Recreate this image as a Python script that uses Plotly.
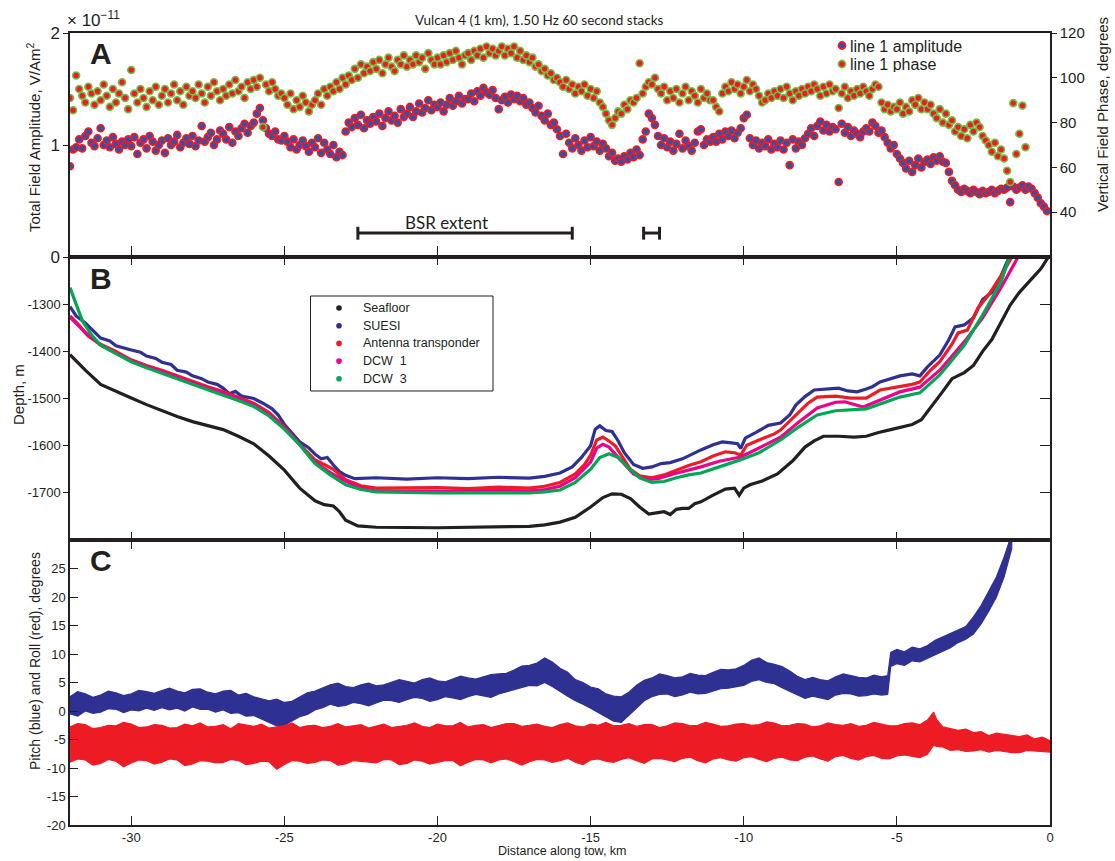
import plotly.graph_objects as go

# ---------------- DATA ----------------
# Panel A: 60 s stacks every 0.1 km starting at -32.0 km
AMP_X0, AMP_DX = -32.0, 0.1
amplitude = [  # x 1e-11 V/Am^2
    0.81, 0.96, 0.98, 1.05, 0.97, 1.08, 1.12, 1.02, 0.99, 1.06,
    1.15, 1.00, 1.04, 0.98, 1.07, 1.01, 0.96, 1.03, 1.00, 1.05,
    0.99, 1.07, 0.92, 1.02, 1.05, 0.97, 1.08, 1.03, 0.95, 1.00,
    1.04, 0.93, 1.06, 1.00, 1.03, 1.09, 0.98, 1.02, 1.06, 1.01,
    1.08, 0.99, 1.04, 1.17, 1.03, 1.07, 1.11, 1.00, 1.05, 1.13,
    1.10, 1.05, 1.16, 1.02, 1.12, 1.08, 1.15, 1.19, 1.11, 1.17,
    1.20, 1.28, 1.33, 1.22, 1.15, 1.10, 1.08, 1.12, 1.05, 1.04,
    1.08, 1.03, 0.98, 1.05, 0.96, 1.00, 1.04, 0.99, 0.94, 1.02,
    0.98, 1.06, 0.93, 1.02, 0.96, 0.92, 1.00, 0.89, 0.94, 0.91,
    1.12, 1.20, 1.16, 1.24, 1.18, 1.27, 1.15, 1.22, 1.19, 1.25,
    1.21, 1.28, 1.17, 1.24, 1.30, 1.22, 1.26, 1.20, 1.32, 1.25,
    1.28, 1.34, 1.25, 1.30, 1.37, 1.29, 1.33, 1.40, 1.31, 1.36,
    1.34, 1.38, 1.30, 1.36, 1.42, 1.35, 1.39, 1.44, 1.37, 1.41,
    1.41, 1.46, 1.39, 1.48, 1.44, 1.51, 1.47, 1.45, 1.49, 1.42,
    1.32, 1.40, 1.43, 1.38, 1.45, 1.41, 1.44, 1.39, 1.42, 1.36,
    1.38, 1.33, 1.29, 1.35, 1.26, 1.22, 1.28, 1.18, 1.20, 1.14,
    1.08, 0.92, 1.10, 1.02, 0.97, 1.06, 1.00, 0.95, 1.04, 0.98,
    1.07, 0.99, 1.03, 0.95, 1.01, 0.97, 0.90, 0.93, 0.86, 0.88,
    0.85, 0.90, 0.87, 0.93, 0.89, 0.96, 0.91, 1.05, 1.12, 1.28,
    1.24, 1.18, 1.08, 1.00, 1.06, 0.98, 1.03, 0.95, 1.01, 1.10,
    0.97, 1.04, 0.99, 0.95, 1.02, 1.12, 1.14, 1.00, 1.05, 1.03,
    1.07, 1.03, 1.10, 1.05, 1.12, 1.08, 1.13, 1.06, 1.11, 1.15,
    1.24, 1.27, 1.06, 1.00, 1.04, 0.97, 1.02, 0.99, 1.05, 0.96,
    1.01, 0.98, 1.04, 0.96, 1.02, 0.82, 1.05, 0.97, 1.03, 1.00,
    1.06, 1.10, 1.15, 1.08, 1.17, 1.21, 1.13, 1.18, 1.12, 1.16,
    1.14, 0.67, 1.19, 1.11, 1.16, 1.08, 1.13, 1.10, 1.07, 1.12,
    1.15, 1.12, 1.20, 1.17, 1.11, 1.13, 1.07, 1.02, 0.97, 1.00,
    0.92, 0.88, 0.84, 0.79, 0.86, 0.76, 0.82, 0.88, 0.80, 0.85,
    0.87, 0.83, 0.89, 0.86, 0.90, 0.85, 0.84, 0.76, 0.68, 0.64,
    0.60, 0.58, 0.61, 0.59, 0.57, 0.60, 0.58, 0.56, 0.59, 0.57,
    0.58, 0.60, 0.57, 0.59, 0.61, 0.60, 0.62, 0.49, 0.63, 0.60,
    0.62, 0.64, 0.60, 0.63, 0.61, 0.57, 0.53, 0.48, 0.45, 0.41,
]
phase = [  # degrees
    91, 85.5, 101, 95, 92, 89, 96, 93, 88, 94,
    90, 97, 92, 87, 95, 89, 93, 98, 91, 86,
    103.5, 93, 89, 95, 91, 87, 94, 90, 96, 88,
    92, 95, 89, 93, 97, 90, 94, 88, 96, 92,
    94, 91, 97, 93, 89, 96, 92, 98, 94, 90,
    95, 92, 97, 93, 99, 94, 96, 91, 98, 95,
    99, 96, 100, 78, 97, 94, 98, 95, 92, 93,
    91, 88, 93, 86, 90, 87, 92, 89, 85, 88,
    90, 93, 88, 95, 92, 96, 94, 98, 95, 100,
    97, 101, 99, 104, 100, 106, 102, 105, 103, 107,
    104, 108, 102, 106, 109, 105, 103, 108, 106, 110,
    105, 108, 106, 110, 107, 109, 104, 111, 108, 106,
    109, 106, 110, 107, 111, 108, 112, 109, 106, 110,
    111, 108, 112, 110, 113, 109, 114, 111, 113, 110,
    112, 114, 110, 113, 111, 114, 109, 112, 108, 110,
    107, 109, 105, 106, 103, 104, 101, 102, 99, 100,
    98, 96, 99, 95, 97, 93, 96, 94, 97, 92,
    95, 91, 94, 89, 87, 84, 81, 79, 82, 85,
    84, 88, 86, 90, 89, 91, 106.5, 93, 96, 98,
    97, 100, 95, 93, 96, 90, 94, 91, 95, 89,
    93, 96, 90, 94, 92, 89, 95, 91, 93, 90,
    90, 87, 85, 93, 96, 94, 98, 95, 97, 93,
    96, 99, 94, 97, 95, 92, 89, 90, 93, 91,
    94, 92, 95, 91, 96, 93, 90, 94, 92, 95,
    93, 96, 94, 97, 95, 92, 96, 93, 97, 94,
    95, 86.5, 93, 96, 91, 94, 92, 95, 93, 96,
    94, 92, 95, 97, 96, 89, 86, 88, 85, 87,
    86, 89, 84, 87, 85, 90, 88, 91, 86, 89,
    86, 88, 84, 82, 86, 80, 84, 79, 81, 76,
    78, 74, 77, 73, 79, 76, 80, 78, 74, 72,
    70, 67, 71, 65, 68, 64, 58.5, 53.5, 88.7, 66,
    75, 87.6, 69,
]
amp_x = [round(AMP_X0 + AMP_DX * i, 2) for i in range(len(amplitude))]
phase_x = amp_x[:len(phase)]
legend_a = ["line 1 amplitude", "line 1 phase"]

# BSR extent and small bracket (km)
bsr_extent = (-22.6, -15.6)
small_extent = (-13.27, -12.75)
bsr_label = "BSR extent"

# Panel B: depths (m)
seafloor_x = [-32.0, -31.5, -31.0, -30.5, -30.0, -29.5, -29.0, -28.5, -28.0, -27.5, -27.0, -26.5, -26.0,
              -25.5, -25.0, -24.5, -24.0, -23.7, -23.4, -23.2, -23.0, -22.6, -22.0, -20.0, -18.0, -17.0,
              -16.5, -16.0, -15.5, -15.0, -14.6, -14.3, -14.0, -13.7, -13.4, -13.1, -12.8, -12.6, -12.4,
              -12.2, -12.0, -11.8, -11.6, -11.4, -11.0, -10.6, -10.3, -10.15, -10.0, -9.8, -9.4, -8.9,
              -8.4, -8.0, -7.7, -7.4, -6.9, -6.4, -6.0, -5.6, -5.2, -4.9, -4.5, -4.2, -3.9, -3.5, -3.2,
              -2.8, -2.5, -2.2, -1.9, -1.6, -1.3, -1.0, -0.6, -0.3, -0.05]
seafloor_y = [-1407, -1440, -1470, -1485, -1499, -1513, -1526, -1538, -1549, -1557, -1566, -1580, -1596,
              -1622, -1652, -1690, -1717, -1725, -1728, -1740, -1758, -1770, -1773, -1774, -1773, -1771,
              -1768, -1762, -1752, -1730, -1710, -1702, -1703, -1712, -1730, -1745, -1742, -1740, -1746,
              -1735, -1733, -1733, -1723, -1719, -1705, -1692, -1690, -1705, -1690, -1683, -1675, -1660,
              -1632, -1603, -1590, -1580, -1580, -1582, -1580, -1572, -1566, -1562, -1555, -1545, -1520,
              -1485, -1458, -1445, -1430, -1400, -1375, -1340, -1302, -1275, -1245, -1225, -1200]

suesi_x = [-32.0, -31.8, -31.5, -31.2, -31.0, -30.7, -30.5, -30.0, -29.7, -29.5, -29.2, -29.0, -28.7,
           -28.5, -28.2, -28.0, -27.7, -27.5, -27.2, -27.0, -26.8, -26.6, -26.4, -26.0, -25.7, -25.4,
           -25.2, -25.0, -24.7, -24.5, -24.2, -24.0, -23.8, -23.6, -23.4, -23.2, -23.0, -22.7, -22.0,
           -21.0, -20.0, -19.0, -18.0, -17.0, -16.5, -16.0, -15.6, -15.3, -15.0, -14.85, -14.7, -14.5,
           -14.3, -14.1, -13.9, -13.6, -13.3, -13.0, -12.7, -12.4, -12.0, -11.7, -11.4, -11.0, -10.7,
           -10.4, -10.2, -10.1, -9.95, -9.6, -9.2, -8.8, -8.5, -8.3, -8.0, -7.7, -7.2, -6.9, -6.6,
           -6.3, -6.0, -5.8, -5.55, -5.2, -4.9, -4.5, -4.25, -4.0, -3.6, -3.3, -3.1, -2.8, -2.5, -2.2,
           -1.9, -1.6, -1.3]
suesi_y = [-1305, -1325, -1340, -1360, -1372, -1378, -1388, -1397, -1402, -1410, -1415, -1423, -1428,
           -1440, -1444, -1452, -1458, -1465, -1470, -1478, -1490, -1485, -1495, -1500, -1510, -1522,
           -1535, -1555, -1578, -1592, -1605, -1618, -1628, -1625, -1641, -1655, -1663, -1670, -1668,
           -1671, -1668, -1670, -1667, -1669, -1665, -1658, -1645, -1625, -1600, -1565, -1558, -1568,
           -1570, -1590, -1615, -1640, -1648, -1645, -1638, -1636, -1628, -1618, -1609, -1598, -1592,
           -1594, -1596, -1606, -1584, -1572, -1557, -1552, -1535, -1514, -1496, -1482, -1480, -1478,
           -1484, -1486, -1480, -1475, -1465, -1458, -1452, -1448, -1452, -1433, -1408, -1375, -1348,
           -1344, -1329, -1290, -1275, -1240, -1195]

antenna_x = [-32.0, -31.7, -31.4, -31.0, -30.5, -30.0, -29.5, -29.0, -28.5, -28.0, -27.5, -27.0, -26.5,
             -26.0, -25.5, -25.0, -24.5, -24.0, -23.7, -23.4, -23.0, -22.5, -22.0, -21.0, -20.0, -19.0,
             -18.0, -17.0, -16.5, -16.0, -15.5, -15.2, -15.0, -14.8, -14.6, -14.4, -14.2, -14.0, -13.7,
             -13.4, -13.0, -12.6, -12.2, -11.8, -11.4, -11.0, -10.6, -10.3, -10.1, -9.9, -9.5, -9.0,
             -8.8, -8.3, -7.9, -7.6, -7.0, -6.5, -6.0, -5.55, -5.0, -4.5, -4.25, -3.9, -3.6, -3.2,
             -3.0, -2.7, -2.35, -2.0, -1.6, -1.2]
antenna_y = [-1325, -1345, -1368, -1385, -1400, -1418, -1430, -1440, -1452, -1464, -1475, -1485, -1497,
             -1510, -1530, -1560, -1597, -1630, -1640, -1650, -1672, -1685, -1690, -1690, -1689, -1691,
             -1688, -1690, -1686, -1678, -1660, -1640, -1620, -1588, -1582, -1590, -1600, -1620, -1650,
             -1664, -1668, -1662, -1652, -1642, -1634, -1622, -1613, -1615, -1620, -1599, -1588, -1575,
             -1567, -1535, -1510, -1497, -1495, -1499, -1499, -1482, -1475, -1470, -1465, -1440, -1422,
             -1385, -1361, -1355, -1308, -1280, -1240, -1195]

dcw1_x = [-32.0, -31.5, -31.0, -30.5, -30.0, -29.5, -29.0, -28.5, -28.0, -27.5, -27.0, -26.5, -26.0,
          -25.5, -25.0, -24.5, -24.0, -23.5, -23.0, -22.5, -22.0, -20.0, -18.0, -17.0, -16.5, -16.0,
          -15.5, -15.0, -14.8, -14.6, -14.4, -14.0, -13.6, -13.2, -12.8, -12.3, -11.8, -11.4, -10.8,
          -10.4, -10.1, -9.5, -8.8, -8.2, -7.6, -7.0, -6.7, -6.1, -5.6, -4.9, -4.25, -3.6, -2.8, -2.2,
          -1.6, -1.0]
dcw1_y = [-1328, -1360, -1387, -1403, -1420, -1432, -1442, -1455, -1467, -1478, -1488, -1500, -1513,
          -1533, -1563, -1598, -1635, -1657, -1675, -1690, -1696, -1697, -1695, -1696, -1693, -1686,
          -1668, -1635, -1605, -1597, -1603, -1632, -1660, -1672, -1670, -1660, -1652, -1645, -1633,
          -1627, -1624, -1605, -1582, -1550, -1520, -1508, -1507, -1518, -1505, -1486, -1476, -1440,
          -1380, -1329, -1265, -1195]

dcw3_x = [-32.0, -31.8, -31.6, -31.3, -31.0, -30.5, -30.0, -29.5, -29.0, -28.5, -28.0, -27.5, -27.0,
          -26.5, -26.0, -25.5, -25.0, -24.5, -24.0, -23.5, -23.0, -22.5, -22.0, -20.0, -18.0, -17.0,
          -16.5, -16.0, -15.5, -15.0, -14.7, -14.4, -14.1, -13.8, -13.4, -13.0, -12.6, -12.2, -11.8,
          -11.4, -10.8, -10.1, -9.5, -8.8, -8.2, -7.6, -7.0, -6.5, -6.0, -4.9, -4.25, -3.6, -2.8,
          -2.2, -1.6, -1.3]
dcw3_y = [-1265, -1300, -1335, -1365, -1387, -1405, -1422, -1435, -1446, -1458, -1470, -1482, -1493,
          -1504, -1517, -1537, -1565, -1598, -1638, -1662, -1683, -1693, -1698, -1700, -1700, -1700,
          -1698, -1694, -1678, -1650, -1625, -1617, -1625, -1645, -1668, -1678, -1676, -1668, -1662,
          -1658, -1645, -1630, -1615, -1588, -1560, -1535, -1526, -1524, -1522, -1497, -1488, -1450,
          -1387, -1323, -1253, -1195]

# Panel C: envelopes of pitch (blue) and roll (red), degrees; 0.25 km samples
pitch_x = [round(-32.0 + 0.25 * i, 2) for i in range(107)] + [
    -5.3, -5.2, -5.0, -4.75, -4.5, -4.25, -4.0, -3.75, -3.5, -3.25, -3.0, -2.75, -2.5, -2.25,
    -2.0, -1.75, -1.5, -1.25]
pitch_hi = [2.5, 3.4, 3.0, 2.4, 2.8, 3.5, 3.2, 2.7, 3.0, 3.6, 3.4, 3.1, 3.6, 4.0, 3.5, 3.2,
            3.8, 3.9, 3.3, 3.0, 3.5, 3.6, 2.8, 3.1, 2.5, 2.2, 1.8, 2.1, 1.5, 1.7, 2.5, 3.2,
            3.5, 4.0, 4.6, 4.9, 4.3, 4.1, 4.6, 4.9, 4.4, 4.6, 5.0, 5.5, 5.2, 4.9, 5.5, 5.8,
            5.3, 5.1, 5.6, 6.1, 5.8, 5.6, 6.0, 6.4, 6.5, 6.6, 7.2, 7.9, 8.0, 8.4, 9.3, 8.6,
            7.5, 6.8, 5.5, 5.0, 4.2, 3.9, 3.0, 2.6, 2.5, 3.3, 4.5, 5.4, 5.8, 6.5, 6.2, 5.8,
            6.0, 6.6, 6.3, 6.2, 6.8, 7.3, 7.2, 7.4, 8.0, 8.9, 9.3, 8.5, 8.2, 7.8, 7.0, 6.1,
            5.5, 5.9, 5.5, 5.3, 6.0, 6.5, 6.2, 5.9, 5.8, 6.3, 6.0,
            6.2, 10.3, 10.8, 10.4, 11.2, 10.9, 11.5, 12.4, 13.0, 13.6, 14.2, 14.8, 16.5, 18.5,
            21.0, 23.5, 27.0, 31.0]
pitch_lo = [-0.5, -0.9, 0.0, -0.4, -0.2, 0.4, 0.3, -0.3, 0.2, 0.0, 0.5, 0.1, 0.6, 0.2, 0.5, 0.0,
            0.7, 0.3, 0.3, -0.2, 0.2, -0.4, -0.3, -0.9, -0.8, -1.5, -2.0, -2.6, -2.5, -1.8, -1.0, -0.6,
            0.2, 0.6, 1.2, 0.8, 1.0, 1.5, 1.3, 0.9, 1.4, 1.9, 1.8, 1.5, 2.0, 2.4, 2.2, 1.7,
            2.0, 2.5, 2.3, 2.0, 2.5, 2.9, 2.7, 2.4, 3.0, 3.3, 3.8, 4.1, 4.5, 4.4, 5.0, 4.3,
            3.5, 2.6, 1.8, 1.2, 0.5, -0.2, -1.0, -1.8, -2.0, -0.8, 0.5, 1.8, 2.5, 2.9, 3.0, 2.5,
            2.8, 3.3, 3.0, 3.1, 3.5, 3.9, 4.0, 4.2, 4.5, 5.2, 5.5, 5.0, 4.8, 4.1, 3.5, 2.8,
            2.2, 2.6, 2.3, 2.0, 2.8, 3.1, 3.0, 2.6, 2.7, 3.0, 2.8,
            2.9, 7.8, 8.3, 8.0, 8.8, 8.6, 9.3, 9.9, 10.5, 11.1, 12.0, 12.6, 13.5, 15.3,
            17.5, 20.0, 23.5, 28.5]
roll_x = [round(-32.0 + 0.25 * i, 2) for i in range(112)] + [
    -4.0, -3.9, -3.8, -3.7, -3.5, -3.25, -3.0, -2.75, -2.5, -2.25, -2.0, -1.75, -1.5, -1.25,
    -1.0, -0.75, -0.5, -0.25, 0.0]
roll_hi = [-2.8, -2.2, -2.4, -3.1, -2.9, -2.5, -2.6, -2.0, -2.3, -2.9, -2.8, -2.4, -2.5, -3.0, -2.9, -2.3,
           -2.6, -2.1, -2.8, -2.7, -2.4, -3.1, -2.2, -2.5, -2.7, -2.3, -3.0, -2.8, -2.6, -2.1, -2.9, -2.6,
           -2.5, -2.9, -2.7, -2.2, -2.8, -2.6, -2.4, -3.0, -2.6, -2.3, -2.9, -2.7, -2.5, -2.1, -2.7, -2.9,
           -2.3, -2.6, -2.6, -2.0, -2.8, -2.5, -2.4, -2.9, -2.6, -2.2, -2.2, -2.7, -2.5, -2.3, -2.7, -2.9,
           -2.4, -2.1, -2.6, -2.8, -2.3, -2.5, -2.0, -2.6, -2.5, -2.2, -2.7, -2.4, -2.4, -2.9, -2.6, -2.1,
           -2.2, -2.6, -2.5, -2.0, -2.3, -2.7, -2.6, -2.3, -2.2, -2.5, -2.4, -1.9, -2.1, -2.6, -2.5, -2.2,
           -2.3, -2.8, -2.6, -2.1, -2.4, -2.5, -2.2, -2.7, -2.5, -2.0, -2.3, -2.6, -2.6, -2.2, -2.1, -2.4,
           -1.6, -0.9, -0.2, -1.5, -2.8, -3.1, -3.4, -3.2, -3.8, -3.6, -4.3, -3.9, -4.1, -4.4,
           -4.5, -4.2, -4.9, -4.6, -5.2]
roll_lo = [-9.0, -8.4, -8.6, -9.5, -9.2, -8.5, -8.8, -9.8, -9.1, -8.6, -8.7, -9.3, -9.0, -8.4, -8.6, -9.6,
           -9.3, -8.7, -8.8, -9.1, -9.0, -8.5, -8.7, -9.4, -9.2, -8.8, -8.9, -10.2, -9.4, -8.7, -8.8, -9.2,
           -9.0, -8.6, -8.7, -9.5, -9.3, -8.7, -8.9, -9.0, -9.1, -8.5, -8.6, -9.4, -9.2, -8.6, -8.8, -9.3,
           -9.0, -8.7, -8.7, -9.6, -9.0, -8.5, -8.6, -9.1, -8.6, -8.4, -8.9, -9.5, -8.9, -8.5, -8.6, -9.0,
           -8.7, -8.3, -9.0, -9.4, -8.6, -8.4, -8.8, -9.0, -8.5, -8.2, -8.7, -9.2, -8.4, -8.3, -8.6, -8.9,
           -8.3, -8.1, -8.7, -9.1, -8.4, -8.2, -8.6, -8.8, -8.2, -8.0, -8.5, -8.9, -8.3, -8.1, -8.6, -8.7,
           -8.1, -7.9, -8.4, -8.8, -8.0, -7.8, -8.3, -8.6, -8.0, -7.8, -8.3, -8.4, -7.9, -7.7, -7.9, -8.2,
           -7.6, -6.8, -6.0, -6.2, -6.3, -6.9, -6.8, -7.1, -7.0, -6.8, -7.2, -6.9, -7.1, -7.3,
           -7.3, -6.9, -7.0, -7.1, -7.2]

x_ticks = [-30, -25, -20, -15, -10, -5, 0]
depth_ticks = [-1300, -1400, -1500, -1600, -1700]
angle_ticks = [-20, -15, -10, -5, 0, 5, 10, 15, 20, 25]
phase_ticks = [40, 60, 80, 100, 120]
amp_ticks = [0, 1, 2]

# ---------------- STYLE ----------------
BLACK = "#231f20"
BLUE = "#2e3192"
RED = "#ed1c24"
PINK = "#ec008c"
GREEN = "#00a651"
LGREEN = "#72bf44"
AMPBLUE = "#3b4ea2"
FONT = "Liberation Sans, Arial, sans-serif"
HUM = "Lato, Open Sans, sans-serif"

fig = go.Figure()

# Panel A
fig.add_trace(go.Scatter(x=amp_x, y=amplitude, mode="markers", name=legend_a[0],
                         xaxis="x3", yaxis="y3", showlegend=False,
                         marker=dict(size=7, color=AMPBLUE, line=dict(color=RED, width=1.6))))
fig.add_trace(go.Scatter(x=phase_x, y=phase, mode="markers", name=legend_a[1],
                         xaxis="x3", yaxis="y4", showlegend=False,
                         marker=dict(size=7, color=RED, line=dict(color=LGREEN, width=1.6))))

# Panel B
depth_series = [
    ("Seafloor", seafloor_x, seafloor_y, BLACK),
    ("SUESI", suesi_x, suesi_y, BLUE),
    ("Antenna transponder", antenna_x, antenna_y, RED),
    ("DCW  1", dcw1_x, dcw1_y, PINK),
    ("DCW  3", dcw3_x, dcw3_y, GREEN),
]
for name, xs, ys, col in depth_series:
    fig.add_trace(go.Scatter(x=xs, y=ys, mode="lines", name=name, xaxis="x2", yaxis="y2",
                             showlegend=False, line=dict(color=col, width=3.2)))
fig.add_trace(go.Scatter(x=[-16], y=[-1500], mode="markers", marker=dict(opacity=0), xaxis="x2",
                         yaxis="y5", showlegend=False, hoverinfo="skip"))

# Panel C
fig.add_trace(go.Scatter(x=pitch_x + pitch_x[::-1], y=pitch_hi + pitch_lo[::-1], mode="lines",
                         fill="toself", fillcolor=BLUE, line=dict(color=BLUE, width=1.2),
                         xaxis="x", yaxis="y", showlegend=False))
fig.add_trace(go.Scatter(x=roll_x + roll_x[::-1], y=roll_hi + roll_lo[::-1], mode="lines",
                         fill="toself", fillcolor=RED, line=dict(color=RED, width=1.2),
                         xaxis="x", yaxis="y", showlegend=False))

# ---------------- LAYOUT ----------------
L, R, T, B = 70, 65, 33, 36
W, H = 1115, 861
PW, PH = W - L - R, H - T - B


def px(xp):
    return (xp - L) / PW


def py(yp):
    return (H - B - yp) / PH


dA = [py(257), 1.0]
dB = [py(540), py(257)]
dC = [0.0, py(540)]

axis_common = dict(showline=True, linecolor=BLACK, linewidth=1.5, showgrid=False, zeroline=False,
                   tickcolor=BLACK, tickwidth=1.3)

xa = dict(axis_common, range=[-32, 0], tickvals=x_ticks, ticktext=[str(v) for v in x_ticks])

fig.update_layout(
    width=W, height=H,
    margin=dict(l=L, r=R, t=T, b=B),
    paper_bgcolor="white", plot_bgcolor="white",
    showlegend=False,
    font=dict(family=FONT, color=BLACK, size=13),
    xaxis=dict(xa, anchor="y", domain=[0, 1], ticks="inside", ticklen=9, mirror="ticks",
               tickfont=dict(size=13)),
    xaxis2=dict(xa, anchor="y2", domain=[0, 1], matches="x", ticks="inside", ticklen=8,
                mirror="ticks", showticklabels=False),
    xaxis3=dict(xa, anchor="y3", domain=[0, 1], matches="x", ticks="inside", ticklen=11,
                mirror=True, showticklabels=False),
    yaxis=dict(axis_common, anchor="x", domain=dC, range=[-20, 30], tickvals=angle_ticks,
               ticktext=[str(v) for v in angle_ticks], ticks="inside", ticklen=8, mirror=True,
               tickfont=dict(size=13)),
    yaxis2=dict(axis_common, anchor="x2", domain=dB, range=[-1800, -1200], tickvals=depth_ticks,
                ticktext=[str(v) for v in depth_ticks], ticks="outside", ticklen=5, mirror=True,
                tickfont=dict(size=13)),
    yaxis5=dict(axis_common, overlaying="y2", anchor="x2", side="right", range=[-1800, -1200],
                tickvals=depth_ticks, ticks="inside", ticklen=10, showticklabels=False, showline=False),
    yaxis3=dict(axis_common, anchor="x3", domain=dA, range=[0, 2], tickvals=amp_ticks,
                ticktext=[str(v) for v in amp_ticks], ticks="outside", ticklen=5,
                tickfont=dict(size=17)),
    yaxis4=dict(axis_common, overlaying="y3", anchor="x3", side="right", range=[20, 120],
                tickvals=phase_ticks, ticktext=[str(v) for v in phase_ticks], ticks="outside",
                ticklen=5, tickfont=dict(size=15)),
)

ann = []
shapes = []


def paper_text(text, xp, yp, size, anchor="center", angle=0, family=FONT, height=None):
    a = dict(text=text, x=px(xp), y=py(yp), xref="paper", yref="paper", showarrow=False,
             textangle=angle, font=dict(size=size, family=family), xanchor=anchor,
             yanchor="middle", borderpad=0)
    if height:
        a["height"] = height
    ann.append(a)


def dot(xp, yp, r, fill, edge=None, ew=0):
    shapes.append(dict(type="circle", xref="paper", yref="paper", x0=px(xp - r), x1=px(xp + r),
                       y0=py(yp + r), y1=py(yp - r), fillcolor=fill,
                       line=dict(color=edge or fill, width=ew)))


paper_text("Vulcan 4 (1 km), 1.50 Hz 60 second stacks", 539, 20, 13.5, family=HUM)
paper_text("× 10<sup>−11</sup>", 66, 19, 17, anchor="left")
for lab, yy in (("A", 54), ("B", 278), ("C", 560)):
    paper_text("<b>%s</b>" % lab, 101, yy, 30)
paper_text("Total Field Amplitude, V/Am<sup>2</sup>", 33, 138, 15, angle=-90)
paper_text("Vertical Field Phase, degrees", 1103, 115, 15, angle=-90)
paper_text("Depth, m", 18, 395, 15, angle=-90)
paper_text("Pitch (blue) and Roll (red), degrees", 35, 661, 14, angle=-90)
paper_text("Distance along tow, km", 628, 851, 12.5, anchor="right")

# Legend of panel A
dot(842, 45.5, 3.6, AMPBLUE, RED, 1.6)
paper_text(legend_a[0], 849, 45.5, 16, anchor="left", height=16)
dot(842, 64, 3.6, RED, LGREEN, 1.6)
paper_text(legend_a[1], 849, 64, 16, anchor="left", height=16)

# Legend of panel B
shapes.append(dict(type="rect", xref="paper", yref="paper", x0=px(310.5), x1=px(493), y0=py(391),
                   y1=py(296), line=dict(color=BLACK, width=1), fillcolor="white"))
for i, (name, xs, ys, col) in enumerate(depth_series):
    yy = 308 + 17.7 * i
    dot(339, yy, 2.8, col)
    paper_text(name, 362, yy, 12.5, anchor="left")

# BSR extent bar
ann.append(dict(text=bsr_label, x=-19.7, y=0.31, xref="x3", yref="y3", showarrow=False,
                font=dict(family=HUM, size=17), xanchor="center", yanchor="middle"))
for (x0, x1) in (bsr_extent, small_extent):
    shapes.append(dict(type="line", xref="x3", yref="y3", x0=x0, x1=x1, y0=0.214, y1=0.214,
                       line=dict(color=BLACK, width=3)))
    for xv in (x0, x1):
        shapes.append(dict(type="line", xref="x3", yref="y3", x0=xv, x1=xv, y0=0.155, y1=0.27,
                           line=dict(color=BLACK, width=3)))

fig.update_layout(annotations=ann, shapes=shapes)

fig.write_html("out.html")
